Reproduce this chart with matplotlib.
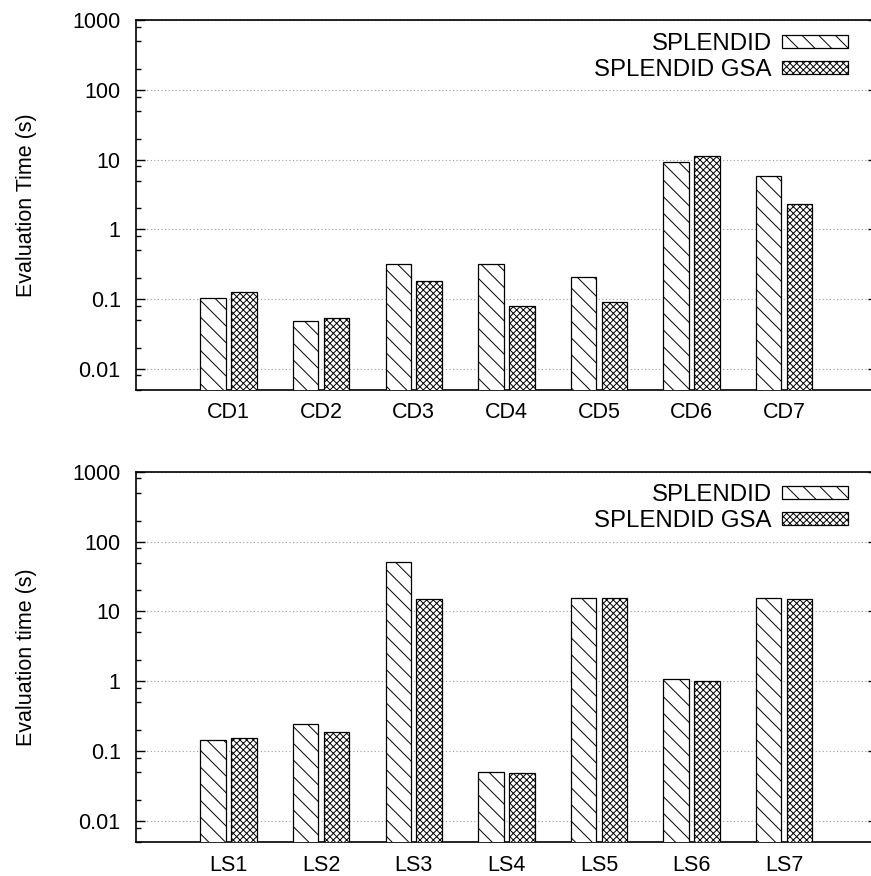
import matplotlib
matplotlib.use("Agg")
import matplotlib.pyplot as plt
from matplotlib.ticker import FixedLocator, FuncFormatter, LogLocator, NullFormatter
import numpy as np


cd_names = ["CD1", "CD2", "CD3", "CD4", "CD5", "CD6", "CD7"]
cd_splendid = [0.105, 0.0485, 0.32, 0.318, 0.21, 9.3, 5.9]
cd_splendid_gsa = [0.127, 0.053, 0.183, 0.080, 0.092, 11.4, 2.33]

ls_names = ["LS1", "LS2", "LS3", "LS4", "LS5", "LS6", "LS7"]
ls_splendid = [0.144, 0.248, 51.5, 0.0498, 15.7, 1.07, 15.7]
ls_splendid_gsa = [0.152, 0.189, 15.2, 0.048, 15.7, 1.0, 15.2]

series_labels = ["SPLENDID", "SPLENDID GSA"]
y_ticks = [0.01, 0.1, 1, 10, 100, 1000]

FS = 15.5
LEG_FS = 17.3
BAR_W = 0.275
GAP = 0.058

plt.rcParams["font.family"] = ["Liberation Sans", "DejaVu Sans"]
plt.rcParams["hatch.linewidth"] = 0.7
plt.rcParams["hatch.color"] = "black"


def draw_panel(ax, names, s_vals, g_vals, ylabel):
    x = np.arange(1, len(names) + 1)
    off = (BAR_W + GAP) / 2
    ax.bar(x - off, s_vals, BAR_W, color="white", edgecolor="black",
           linewidth=0.9, hatch="\\\\", label=series_labels[0], zorder=3)
    ax.bar(x + off, g_vals, BAR_W, color="white", edgecolor="black",
           linewidth=0.9, hatch="xxxxx", label=series_labels[1], zorder=3)

    ax.set_yscale("log")
    ax.set_ylim(0.005, 1000)
    ax.set_xlim(0, 8)
    ax.set_xticks(x)
    ax.set_xticklabels(names, fontsize=FS)
    ax.tick_params(axis="x", length=0, pad=9)

    ax.yaxis.set_major_locator(FixedLocator(y_ticks))
    ax.yaxis.set_major_formatter(FuncFormatter(lambda v, p: "%g" % v))
    ax.yaxis.set_minor_locator(LogLocator(base=10, subs=(2, 5, 8)))
    ax.yaxis.set_minor_formatter(NullFormatter())
    ax.tick_params(axis="y", which="major", direction="in", length=6.5,
                   width=1.0, labelsize=FS, pad=11, right=True)
    ax.tick_params(axis="y", which="minor", direction="in", length=3.5,
                   width=1.0, right=True)

    ax.grid(axis="y", which="major", color="#999999", linestyle=(0, (1, 2.2)),
            linewidth=0.8, zorder=0)
    for sp in ax.spines.values():
        sp.set_linewidth(1.2)

    ax.set_ylabel(ylabel, fontsize=FS)
    ax.yaxis.set_label_coords(-0.134, 0.5)

    ax.legend(loc="upper right", bbox_to_anchor=(0.961, 0.966),
              frameon=False, markerfirst=False, fontsize=LEG_FS,
              borderpad=0, borderaxespad=0, handlelength=2.75,
              handleheight=0.46, handletextpad=0.42, labelspacing=0.17)


fig = plt.figure(figsize=(8.71, 8.76), dpi=100)
ax1 = fig.add_axes([0.1561, 0.5551, 0.8505, 0.4220])
ax2 = fig.add_axes([0.1561, 0.0388, 0.8505, 0.4227])

draw_panel(ax1, cd_names, cd_splendid, cd_splendid_gsa, "Evaluation Time (s)")
draw_panel(ax2, ls_names, ls_splendid, ls_splendid_gsa, "Evaluation time (s)")

plt.savefig("out.png", dpi=100)
